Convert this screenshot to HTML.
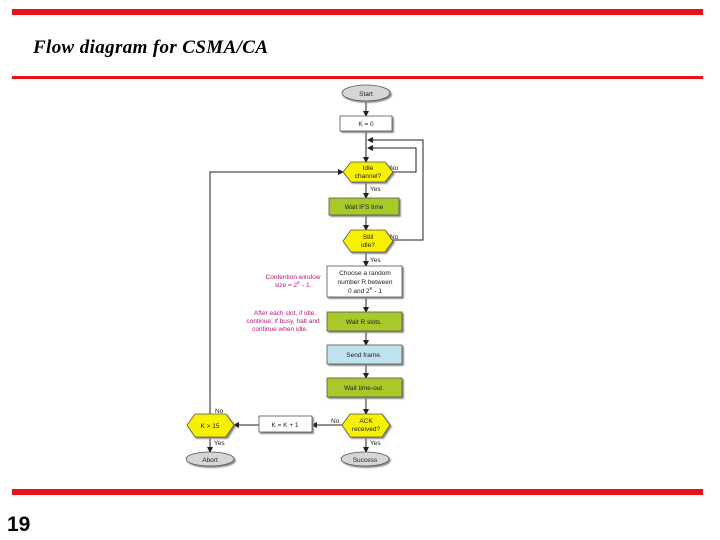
<!DOCTYPE html>
<html><head><style>body{margin:0;background:#fff}svg{display:block}</style></head><body>
<svg width="720" height="540" viewBox="0 0 720 540" xmlns="http://www.w3.org/2000/svg" font-family="Liberation Sans, sans-serif">
<defs><marker id="a" markerWidth="6" markerHeight="6" refX="5" refY="3" orient="auto"><path d="M0,0L6,3L0,6z" fill="#222"/></marker>
<filter id="s"><feDropShadow dx="1.5" dy="1.5" stdDeviation="0.8" flood-color="#888"/></filter></defs>
<rect x="12" y="9" width="691" height="6" fill="#e8141b"/>
<rect x="12" y="76" width="691" height="3" fill="#e8141b"/>
<rect x="12" y="489" width="691" height="6" fill="#e8141b"/>
<text x="33" y="53" font-family="Liberation Serif, serif" font-style="italic" font-weight="bold" font-size="19" textLength="235">Flow diagram for CSMA/CA</text>
<text x="7" y="531" font-weight="bold" font-size="21">19</text>
<g stroke="#222" stroke-width="1" fill="none">
<line x1="366" y1="101" x2="366" y2="116" marker-end="url(#a)"/>
<line x1="366" y1="131" x2="366" y2="162" marker-end="url(#a)"/>
<polyline points="393,172 416,172 416,148 368,148" marker-end="url(#a)"/>
<polyline points="393,240 423,240 423,140 368,140" marker-end="url(#a)"/>
<line x1="366" y1="182" x2="366" y2="198" marker-end="url(#a)"/>
<line x1="366" y1="215" x2="366" y2="230" marker-end="url(#a)"/>
<line x1="366" y1="252" x2="366" y2="266" marker-end="url(#a)"/>
<line x1="366" y1="297" x2="366" y2="312" marker-end="url(#a)"/>
<line x1="366" y1="331" x2="366" y2="345" marker-end="url(#a)"/>
<line x1="366" y1="364" x2="366" y2="378" marker-end="url(#a)"/>
<line x1="366" y1="397" x2="366" y2="414" marker-end="url(#a)"/>
<line x1="366" y1="437" x2="366" y2="452" marker-end="url(#a)"/>
<line x1="342" y1="425" x2="312" y2="425" marker-end="url(#a)"/>
<line x1="259" y1="425" x2="234" y2="425" marker-end="url(#a)"/>
<line x1="210" y1="437" x2="210" y2="452" marker-end="url(#a)"/>
<polyline points="210,414 210,172 343,172" marker-end="url(#a)"/>
</g>
<g stroke="#555" stroke-width="0.8" filter="url(#s)">
<ellipse cx="366" cy="93" rx="24" ry="8" fill="#d6d6d6"/>
<rect x="340" y="116" width="52" height="15" fill="#fff"/>
<polygon points="343,172 351,162 385,162 393,172 385,182 351,182" fill="#f7f000"/>
<rect x="329" y="198" width="70" height="17" fill="#a9c829"/>
<polygon points="343,241 351,230 385,230 393,241 385,252 351,252" fill="#f7f000"/>
<rect x="327" y="266" width="75" height="31" fill="#fff"/>
<rect x="327" y="312" width="75" height="19" fill="#a9c829"/>
<rect x="327" y="345" width="75" height="19" fill="#bfe3ee"/>
<rect x="327" y="378" width="75" height="19" fill="#a9c829"/>
<polygon points="342,425 350,414 382,414 390,425 382,437 350,437" fill="#f7f000"/>
<ellipse cx="365" cy="459" rx="24" ry="7" fill="#d6d6d6"/>
<rect x="259" y="416" width="53" height="16" fill="#fff"/>
<polygon points="187,425 195,414 226,414 234,425 226,437 195,437" fill="#f7f000"/>
<ellipse cx="210" cy="459" rx="24" ry="7" fill="#d6d6d6"/>
</g>
<g font-size="6.5" fill="#222" text-anchor="middle">
<text x="366" y="96">Start</text>
<text x="366" y="126">K = 0</text>
<text x="368" y="170">Idle</text><text x="368" y="178">channel?</text>
<text x="364" y="209">Wait IFS time</text>
<text x="368" y="239">Still</text><text x="368" y="247">idle?</text>
<text x="365" y="275">Choose a random</text><text x="365" y="284">number R between</text><text x="365" y="293">0 and 2<tspan font-size="4.5" dy="-3">K</tspan><tspan dy="3"> - 1</tspan></text>
<text x="364" y="324">Wait R slots.</text>
<text x="364" y="357">Send frame.</text>
<text x="364" y="390">Wait time-out.</text>
<text x="366" y="423">ACK</text><text x="366" y="431">received?</text>
<text x="365" y="462">Success</text>
<text x="285" y="427">K = K + 1</text>
<text x="210" y="428">K &gt; 15</text>
<text x="210" y="462">Abort</text>
</g>
<g font-size="6.5" fill="#222">
<text x="390" y="170">No</text><text x="370" y="191">Yes</text>
<text x="390" y="239">No</text><text x="370" y="262">Yes</text>
<text x="331" y="423">No</text><text x="370" y="445">Yes</text>
<text x="215" y="413">No</text><text x="214" y="445">Yes</text>
</g>
<g font-size="6.5" fill="#c0157a" text-anchor="middle">
<text x="293" y="279">Contention window</text><text x="293" y="287">size = 2<tspan font-size="4.5" dy="-3">K</tspan><tspan dy="3"> - 1.</tspan></text>
<text x="285" y="315">After each slot, if idle,</text><text x="283" y="323">continue; if busy, halt and</text><text x="280" y="331">continue when idle.</text>
</g>
</svg>
</body></html>
